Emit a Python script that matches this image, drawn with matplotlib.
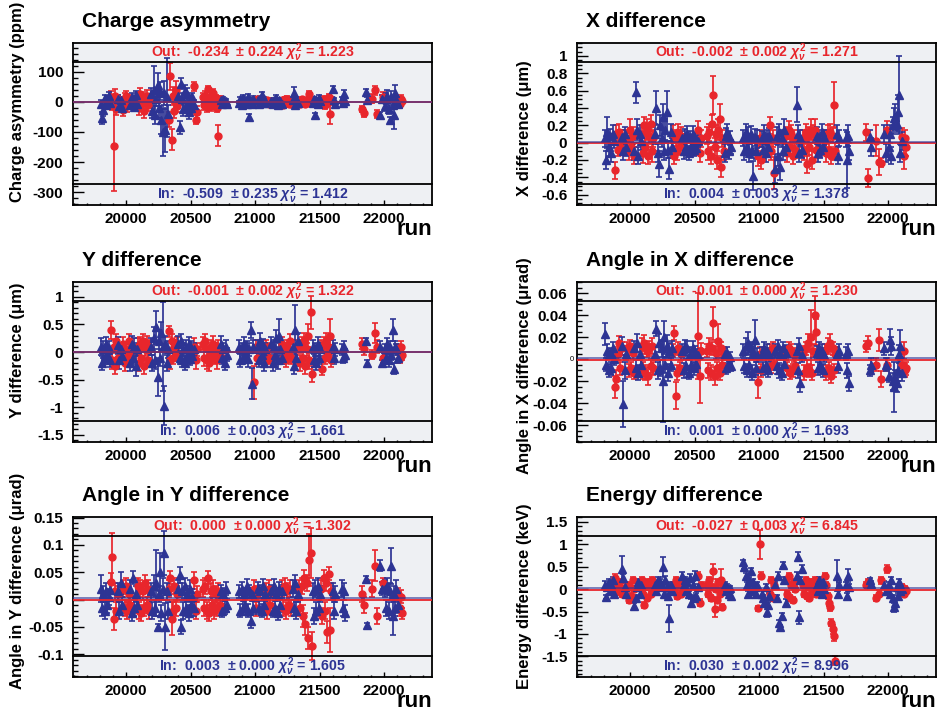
import matplotlib
matplotlib.use("Agg")
import matplotlib.pyplot as plt
import matplotlib.transforms as mtransforms
from matplotlib.ticker import MultipleLocator, FuncFormatter

plt.rcParams["font.family"] = ["Liberation Sans", "DejaVu Sans"]
plt.rcParams["font.weight"] = "bold"
plt.rcParams["mathtext.fontset"] = "custom"
plt.rcParams["mathtext.rm"] = "Liberation Sans:bold"
plt.rcParams["mathtext.it"] = "Liberation Sans:italic:bold"
plt.rcParams["mathtext.bf"] = "Liberation Sans:bold"

RED = "#e8262c"
BLUE = "#2d3494"
BG = "#eef0f3"

# run numbers, shared by all panels
runs_in = [19805, 19815, 19825, 19835, 19845, 19855, 19865, 19875,
           19940, 19950, 19960, 19970,
           20035, 20045, 20055, 20065, 20075, 20085,
           20195, 20205, 20215, 20225, 20235, 20245, 20255, 20265, 20275, 20285, 20295, 20305, 20315, 20325,
           20405, 20415, 20425, 20435, 20445, 20455, 20465, 20475, 20485, 20495, 20505, 20515, 20525,
           20735, 20745, 20755, 20765, 20775, 20785,
           20875, 20885, 20895, 20905, 20915, 20925, 20935, 20945, 20955, 20965, 20975, 20985,
           21020, 21030, 21040, 21050, 21060, 21070, 21080,
           21125, 21135, 21145, 21155, 21165, 21175, 21185, 21195, 21205,
           21290, 21300, 21310, 21320, 21330,
           21445, 21455, 21465, 21475, 21485, 21495, 21505,
           21600, 21610, 21620,
           21670, 21680, 21690, 21700,
           21860, 21865, 21965, 21980,
           22005, 22015, 22025, 22035, 22045, 22055, 22065, 22075, 22085, 22095, 22105]
runs_out = [19885, 19895, 19905, 19915, 19925, 19935,
            19980, 19990, 20000, 20010, 20020, 20030,
            20090, 20100, 20110, 20120, 20130, 20140, 20150, 20160, 20170, 20180,
            20335, 20345, 20355, 20365, 20375, 20385, 20395,
            20530, 20540, 20550,
            20595, 20605, 20615, 20625, 20635, 20645, 20655, 20665, 20675, 20685, 20695, 20705, 20715, 20725,
            20995, 21005, 21015,
            21085, 21095, 21105, 21115,
            21210, 21220, 21230, 21240, 21250, 21260, 21270, 21280,
            21340, 21350, 21360, 21370, 21380, 21390, 21400, 21410, 21420, 21430, 21440,
            21510, 21520, 21530, 21540, 21550, 21560, 21570, 21580, 21590,
            21825, 21845, 21905, 21925, 21945, 21990,
            22110, 22120, 22130, 22140]

# charge asymmetry (ppm)
charge_in = [-8, -55, -28, 12, -10, 6, 20, -5,
             10, -15, 5, -20,
             -12, 15, 5, -18, 22, -6,
             25, -30, 40, -45, 10, 55, -20, 35, -60, -100, 30, -95, 15, -40,
             20, -85, 60, 10, -25, 35, -15, 25, -35, 5, -20, 15, -10,
             5, -8, 10, -5, 3, -6,
             -5, 8, -10, 12, -4, 6, -8, 15, -50, 4, -6, 10,
             5, -8, 10, 22, -5, 8, -3,
             4, -8, 6, -5, 12, -10, 5, 2, -6,
             6, 30, -12, 8, -4,
             -5, 8, -45, 6, -8, 12, 4,
             42, 5, -6,
             8, -5, 25, 4,
             32, 5, -45, 10,
             -15, 10, 20, -25, -60, 15, -10, -45, 30, 5, -8]
charge_in_err = [14, 20, 18, 12, 10, 12, 14, 10,
                 12, 14, 10, 12,
                 12, 14, 10, 12, 14, 10,
                 20, 25, 80, 30, 25, 40, 35, 30, 45, 80, 40, 70, 130, 30,
                 25, 20, 18, 20, 22, 20, 18, 20, 22, 18, 16, 15, 15,
                 6, 8, 6, 7, 6, 5,
                 8, 8, 10, 9, 8, 7, 8, 10, 10, 8, 7, 8,
                 7, 8, 8, 12, 7, 8, 6,
                 8, 9, 8, 7, 9, 8, 7, 8, 7,
                 9, 20, 10, 8, 7,
                 8, 9, 8, 8, 9, 10, 8,
                 12, 8, 7,
                 8, 7, 15, 8,
                 12, 10, 10, 12,
                 15, 18, 20, 15, 10, 20, 15, 45, 25, 15, 12]
charge_out = [15, -10, -145, 20, -25, 8,
              -28, 10, 20, -15, 8, -10,
              12, -20, 25, -8, 15, -30, 5, 20, -12, 10,
              -60, 85, -125, 20, -30, 40, -15,
              52, -60, -35,
              15, -10, 20, -18, 42, 5, -15, 25, 30, -8, 12, -20, -112, 8,
              5, -3, 8,
              -4, 6, -8, 3,
              5, -10, 8, -4, 10, -6, 3, -8,
              4, -6, 8, -3, 5, -8, 6, -4, 25, 3, -5,
              5, -8, 10, -12, 6, -5, 15, -42, 8,
              -25, -38, 10, 38, -40, 15,
              5, -8, 10, 2]
charge_out_err = [20, 18, 150, 22, 20, 15,
                  18, 20, 15, 18, 14, 15,
                  20, 25, 22, 20, 18, 25, 20, 18, 20, 15,
                  25, 45, 35, 30, 25, 30, 20,
                  15, 15, 20,
                  15, 18, 15, 16, 10, 15, 14, 15, 12, 16, 12, 15, 35, 12,
                  8, 7, 8,
                  8, 7, 8, 7,
                  8, 9, 8, 7, 9, 8, 7, 8,
                  7, 8, 7, 6, 7, 8, 6, 7, 10, 7, 6,
                  8, 9, 10, 12, 8, 7, 10, 30, 8,
                  10, 12, 15, 14, 12, 18,
                  10, 12, 12, 10]

# X difference (um)
xdiff_in = [0.05, -0.2, 0.12, -0.05, 0.08, -0.12, 0.1, 0.02,
            0.06, -0.1, 0.1, -0.05,
            -0.1, 0.58, 0.15, -0.15, 0.1, 0.02,
            0.1, 0.4, -0.12, -0.25, 0.2, 0.05, 0.3, -0.1, 0.15, 0.35, -0.08, -0.3, 0.12, -0.05,
            0.05, -0.1, 0.08, -0.05, 0.1, -0.12, 0.06, -0.04, 0.1, -0.08, 0.04, -0.06, 0.02,
            -0.12, 0.08, 0.12, -0.1, 0.05, -0.05,
            0.05, -0.1, 0.12, -0.05, 0.08, -0.12, 0.1, -0.08, -0.38, 0.06, -0.1, 0.04,
            0.04, -0.08, 0.1, -0.12, 0.06, -0.05, 0.08,
            -0.3, 0.08, -0.15, 0.12, -0.28, 0.05, -0.1, 0.15, -0.05,
            0.44, 0.1, -0.12, 0.05, -0.08,
            0.08, -0.12, 0.05, -0.08, 0.12, -0.05, 0.06,
            0.1, -0.15, 0.05,
            0.05, -0.2, 0.08, -0.1,
            0.07, -0.05, 0.1, -0.12,
            -0.05, 0.1, -0.15, 0.2, 0.28, 0.3, 0.22, 0.35, 0.55, -0.12, 0.02]
xdiff_in_err = [0.1, 0.1, 0.18, 0.1, 0.08, 0.1, 0.1, 0.08,
                0.09, 0.1, 0.08, 0.1,
                0.1, 0.12, 0.12, 0.1, 0.1, 0.1,
                0.12, 0.2, 0.1, 0.15, 0.12, 0.1, 0.15, 0.1, 0.12, 0.25, 0.1, 0.12, 0.1, 0.1,
                0.08, 0.09, 0.08, 0.07, 0.09, 0.08, 0.07, 0.08, 0.09, 0.08, 0.07, 0.08, 0.07,
                0.1, 0.09, 0.1, 0.09, 0.08, 0.08,
                0.09, 0.1, 0.1, 0.09, 0.1, 0.1, 0.09, 0.1, 0.17, 0.1, 0.09, 0.1,
                0.09, 0.1, 0.1, 0.1, 0.09, 0.08, 0.09,
                0.17, 0.1, 0.12, 0.1, 0.15, 0.1, 0.1, 0.12, 0.1,
                0.2, 0.1, 0.1, 0.09, 0.1,
                0.1, 0.1, 0.09, 0.1, 0.1, 0.09, 0.09,
                0.1, 0.1, 0.09,
                0.1, 0.32, 0.12, 0.1,
                0.08, 0.1, 0.1, 0.1,
                0.12, 0.1, 0.1, 0.1, 0.12, 0.15, 0.1, 0.2, 0.45, 0.1, 0.1]
xdiff_out = [-0.32, 0.1, -0.08, 0.12, -0.05, 0.06,
             0.05, -0.1, 0.15, -0.05, 0.08, -0.15,
             0.1, -0.12, 0.2, -0.05, 0.15, -0.15, 0.08, 0.22, -0.1, 0.05,
             0.1, -0.15, 0.05, -0.1, 0.12, -0.05, 0.08,
             0.15, -0.12, 0.05,
             0.08, -0.1, 0.12, -0.15, 0.22, 0.55, -0.05, 0.1, -0.2, 0.15, 0.27, -0.28, 0.05, -0.1,
             -0.15, 0.05, -0.2,
             0.2, -0.1, 0.05, -0.35,
             0.08, -0.12, 0.15, -0.05, 0.1, -0.15, 0.05, -0.08,
             0.05, -0.1, 0.12, -0.25, 0.08, -0.05, 0.15, -0.2, 0.1, 0.15, -0.08,
             0.05, -0.12, 0.1, -0.08, 0.12, -0.15, 0.08, 0.44, -0.1,
             0.12, -0.41, 0.02, -0.22, -0.23, 0.15,
             0.07, -0.15, 0.05, -0.05]
xdiff_out_err = [0.1, 0.1, 0.08, 0.1, 0.08, 0.08,
                 0.1, 0.1, 0.12, 0.09, 0.1, 0.1,
                 0.1, 0.12, 0.1, 0.1, 0.12, 0.1, 0.1, 0.1, 0.12, 0.1,
                 0.1, 0.1, 0.09, 0.1, 0.1, 0.09, 0.1,
                 0.1, 0.1, 0.1,
                 0.1, 0.1, 0.1, 0.1, 0.1, 0.22, 0.1, 0.1, 0.1, 0.12, 0.18, 0.12, 0.1, 0.1,
                 0.12, 0.1, 0.1,
                 0.1, 0.1, 0.1, 0.18,
                 0.1, 0.1, 0.1, 0.09, 0.1, 0.1, 0.09, 0.1,
                 0.1, 0.1, 0.1, 0.1, 0.1, 0.09, 0.12, 0.1, 0.1, 0.12, 0.1,
                 0.1, 0.1, 0.1, 0.09, 0.1, 0.1, 0.09, 0.26, 0.1,
                 0.1, 0.1, 0.18, 0.15, 0.05, 0.1,
                 0.1, 0.15, 0.1, 0.1]

# Y difference (um)
ydiff_in = [0.1, -0.2, 0.05, -0.1, 0.15, -0.05, 0.08, -0.15,
            0.12, -0.15, 0.05, -0.08,
            -0.2, 0.15, -0.1, 0.1, -0.25, 0.05,
            0.1, -0.2, 0.25, -0.15, 0.45, -0.45, 0.2, -0.1, 0.35, 0.1, -0.97, 0.15, -0.2, 0.05,
            0.15, -0.1, 0.2, -0.15, 0.05, -0.2, 0.1, -0.05, 0.15, -0.12, 0.08, -0.08, 0.05,
            0.15, -0.1, 0.05, -0.2, 0.1, -0.05,
            0.1, -0.15, 0.05, -0.1, 0.15, -0.05, 0.08, -0.12, 0.05, 0.4, -0.57, 0.1,
            0.1, -0.15, 0.2, -0.05, 0.12, -0.2, 0.05,
            0.15, -0.2, 0.1, -0.05, 0.25, -0.15, 0.3, 0.05, -0.1,
            0.1, -0.25, 0.4, -0.1, 0.2,
            0.1, -0.15, 0.05, -0.2, 0.15, -0.1, 0.05,
            0.1, -0.1, 0.05,
            0.05, -0.1, 0.1, -0.05,
            0.2, -0.2, 0.1, -0.2,
            0.05, -0.1, 0.15, -0.15, 0.1, -0.05, 0.4, -0.3, 0.1, 0.05, -0.1]
ydiff_in_err = [0.15, 0.12, 0.15, 0.12, 0.12, 0.12, 0.12, 0.12,
                0.15, 0.15, 0.12, 0.12,
                0.15, 0.15, 0.12, 0.15, 0.18, 0.12,
                0.15, 0.15, 0.2, 0.15, 0.3, 0.35, 0.2, 0.15, 0.2, 0.8, 0.35, 0.15, 0.15, 0.15,
                0.15, 0.12, 0.12, 0.12, 0.12, 0.12, 0.12, 0.12, 0.12, 0.12, 0.12, 0.12, 0.12,
                0.15, 0.12, 0.12, 0.12, 0.12, 0.12,
                0.12, 0.12, 0.12, 0.12, 0.12, 0.12, 0.12, 0.15, 0.12, 0.15, 0.28, 0.12,
                0.12, 0.12, 0.15, 0.12, 0.12, 0.15, 0.12,
                0.12, 0.15, 0.12, 0.12, 0.15, 0.15, 0.3, 0.12, 0.12,
                0.12, 0.15, 0.45, 0.15, 0.15,
                0.12, 0.12, 0.12, 0.12, 0.12, 0.12, 0.12,
                0.12, 0.12, 0.12,
                0.1, 0.1, 0.1, 0.1,
                0.05, 0.05, 0.1, 0.05,
                0.1, 0.12, 0.1, 0.12, 0.1, 0.1, 0.2, 0.1, 0.1, 0.1, 0.1]
ydiff_out = [0.4, -0.15, 0.1, -0.25, 0.2, -0.1,
             0.15, -0.2, 0.05, -0.1, 0.2, -0.05,
             0.1, -0.2, 0.15, -0.1, 0.2, -0.25, 0.05, 0.15, -0.15, 0.1,
             0.38, -0.15, 0.2, -0.1, 0.1, -0.05, 0.15,
             0.1, -0.15, 0.05,
             0.15, -0.1, 0.2, -0.15, 0.05, -0.2, 0.1, -0.05, 0.15, -0.1, 0.05, -0.15, 0.1, -0.05,
             -0.55, 0.1, -0.1,
             0.1, -0.15, 0.05, -0.1,
             0.15, -0.1, 0.05, -0.15, 0.1, -0.05, 0.2, -0.1,
             0.1, -0.2, 0.15, -0.1, 0.2, -0.25, 0.05, 0.3, -0.15, 0.72, -0.4,
             0.1, -0.3, 0.15, -0.1, 0.2, -0.05, 0.1, 0.3, -0.15,
             0.15, 0.05, -0.05, 0.35, 0.1, -0.1,
             0.05, -0.1, 0.1, -0.05]
ydiff_out_err = [0.17, 0.15, 0.12, 0.15, 0.12, 0.12,
                 0.12, 0.15, 0.12, 0.12, 0.12, 0.12,
                 0.15, 0.15, 0.12, 0.15, 0.12, 0.15, 0.12, 0.15, 0.12, 0.12,
                 0.1, 0.15, 0.12, 0.12, 0.12, 0.12, 0.12,
                 0.15, 0.15, 0.12,
                 0.12, 0.15, 0.12, 0.15, 0.12, 0.15, 0.12, 0.12, 0.15, 0.12, 0.12, 0.15, 0.12, 0.12,
                 0.3, 0.12, 0.12,
                 0.12, 0.12, 0.12, 0.12,
                 0.12, 0.12, 0.12, 0.12, 0.12, 0.12, 0.12, 0.12,
                 0.12, 0.15, 0.12, 0.12, 0.15, 0.15, 0.12, 0.2, 0.15, 0.3, 0.15,
                 0.12, 0.12, 0.12, 0.12, 0.15, 0.12, 0.12, 0.3, 0.12,
                 0.1, 0.1, 0.08, 0.18, 0.12, 0.1,
                 0.1, 0.1, 0.1, 0.1]

# angle in X difference (urad)
angx_in = [0.023, -0.005, 0.008, -0.01, 0.005, -0.008, 0.01, 0.0,
           0.012, -0.041, -0.01, 0.005,
           0.01, -0.008, 0.015, -0.012, 0.005, -0.005,
           0.005, 0.028, -0.01, 0.015, -0.008, 0.01, -0.02, 0.02, -0.005, 0.012, -0.012, 0.008, -0.005, 0.01,
           0.008, -0.01, 0.012, -0.006, 0.01, -0.012, 0.005, -0.005, 0.01, -0.008, 0.006, -0.004, 0.004,
           0.005, -0.008, 0.006, -0.004, 0.002, -0.006,
           0.008, -0.006, 0.012, -0.01, 0.015, -0.005, 0.01, -0.012, 0.006, 0.018, -0.008, 0.004,
           0.005, -0.008, 0.01, -0.005, 0.008, -0.01, 0.004,
           0.008, -0.006, 0.012, -0.01, 0.005, -0.012, 0.01, -0.004, 0.006,
           0.008, -0.01, 0.012, -0.022, 0.004,
           0.006, -0.008, 0.01, -0.005, 0.008, -0.01, 0.004,
           0.005, -0.006, 0.008,
           0.005, -0.01, 0.008, -0.022,
           -0.01, -0.005, 0.01, -0.005,
           -0.015, 0.018, 0.012, -0.02, -0.025, -0.018, -0.022, -0.01, 0.005, 0.012, -0.012]
angx_in_err = [0.01, 0.006, 0.006, 0.006, 0.005, 0.006, 0.006, 0.005,
               0.008, 0.021, 0.008, 0.006,
               0.007, 0.007, 0.008, 0.007, 0.006, 0.006,
               0.006, 0.007, 0.008, 0.008, 0.007, 0.008, 0.037, 0.015, 0.007, 0.01, 0.008, 0.007, 0.006, 0.007,
               0.006, 0.007, 0.006, 0.006, 0.007, 0.006, 0.006, 0.006, 0.007, 0.006, 0.006, 0.006, 0.005,
               0.005, 0.005, 0.005, 0.005, 0.005, 0.005,
               0.006, 0.006, 0.007, 0.006, 0.01, 0.006, 0.006, 0.007, 0.006, 0.018, 0.006, 0.006,
               0.006, 0.006, 0.006, 0.006, 0.006, 0.006, 0.006,
               0.006, 0.007, 0.006, 0.007, 0.006, 0.007, 0.006, 0.006, 0.007,
               0.006, 0.007, 0.007, 0.008, 0.006,
               0.006, 0.006, 0.006, 0.006, 0.006, 0.006, 0.006,
               0.006, 0.006, 0.006,
               0.006, 0.007, 0.006, 0.007,
               0.005, 0.006, 0.006, 0.006,
               0.006, 0.01, 0.008, 0.008, 0.023, 0.008, 0.008, 0.01, 0.008, 0.015, 0.008]
angx_out = [-0.025, -0.018, 0.005, 0.015, -0.008, 0.01,
            0.01, -0.01, 0.012, -0.008, 0.006, -0.012,
            0.012, -0.01, 0.015, -0.012, 0.008, -0.015, 0.01, -0.006, 0.012, -0.008,
            0.008, 0.024, -0.033, -0.012, 0.01, -0.008, 0.005,
            0.021, -0.015, 0.008,
            0.008, -0.01, 0.012, -0.012, 0.01, 0.033, -0.015, 0.006, -0.008, 0.017, -0.012, 0.01, -0.005, 0.005,
            -0.021, 0.005, -0.01,
            0.008, -0.006, 0.01, -0.004,
            0.006, -0.008, 0.01, -0.012, 0.008, -0.01, 0.004, -0.006,
            0.006, -0.012, 0.01, -0.008, 0.015, -0.01, 0.02, -0.012, 0.008, 0.04, 0.025,
            0.008, -0.012, 0.012, -0.008, 0.015, -0.015, 0.01, -0.01, 0.005,
            0.012, 0.015, -0.005, 0.018, -0.018, -0.005,
            -0.005, 0.008, -0.01, -0.008]
angx_out_err = [0.01, 0.008, 0.006, 0.006, 0.006, 0.006,
                0.006, 0.006, 0.006, 0.006, 0.006, 0.006,
                0.007, 0.008, 0.007, 0.007, 0.006, 0.008, 0.007, 0.006, 0.007, 0.006,
                0.006, 0.006, 0.012, 0.007, 0.006, 0.006, 0.006,
                0.039, 0.025, 0.007,
                0.006, 0.007, 0.007, 0.007, 0.006, 0.015, 0.008, 0.006, 0.006, 0.015, 0.007, 0.006, 0.006, 0.006,
                0.014, 0.006, 0.006,
                0.006, 0.006, 0.006, 0.006,
                0.006, 0.006, 0.006, 0.006, 0.006, 0.006, 0.006, 0.006,
                0.006, 0.007, 0.006, 0.007, 0.008, 0.006, 0.025, 0.007, 0.006, 0.018, 0.012,
                0.006, 0.007, 0.007, 0.006, 0.008, 0.007, 0.006, 0.006, 0.006,
                0.005, 0.006, 0.006, 0.01, 0.007, 0.006,
                0.006, 0.008, 0.006, 0.006]

# angle in Y difference (urad)
angy_in = [0.02, -0.015, 0.01, -0.02, 0.015, -0.01, 0.005, 0.018,
           0.015, -0.02, 0.03, -0.01,
           0.02, -0.025, 0.04, -0.015, 0.01, -0.01,
           0.015, -0.02, 0.025, -0.015, 0.03, -0.05, 0.01, 0.05, -0.025, 0.02, 0.085, -0.05, 0.015, -0.02,
           0.02, 0.045, -0.05, 0.015, -0.02, 0.025, -0.015, 0.01, -0.025, 0.02, -0.01, 0.005, -0.015,
           0.015, -0.02, 0.01, -0.015, 0.02, -0.01,
           0.015, -0.02, 0.02, -0.015, 0.01, -0.01, 0.025, -0.02, 0.015, -0.04, 0.01, -0.015,
           0.02, -0.015, 0.015, -0.02, 0.025, -0.01, 0.01,
           0.015, -0.02, 0.025, -0.015, 0.01, -0.025, 0.02, -0.01, 0.015,
           0.02, -0.015, 0.03, -0.02, 0.01,
           0.015, -0.03, 0.02, -0.02, 0.025, -0.015, 0.01,
           0.015, -0.02, 0.01,
           0.02, -0.015, 0.015, -0.025,
           0.038, -0.047, 0.062, 0.02,
           0.02, -0.015, 0.025, -0.02, 0.015, 0.062, -0.03, 0.01, -0.015, 0.02, -0.01]
angy_in_err = [0.025, 0.015, 0.015, 0.015, 0.015, 0.015, 0.015, 0.015,
               0.015, 0.015, 0.02, 0.015,
               0.015, 0.015, 0.012, 0.015, 0.015, 0.015,
               0.015, 0.015, 0.02, 0.015, 0.06, 0.005, 0.015, 0.035, 0.015, 0.02, 0.04, 0.043, 0.015, 0.015,
               0.015, 0.015, 0.012, 0.015, 0.015, 0.015, 0.015, 0.015, 0.015, 0.015, 0.015, 0.015, 0.015,
               0.012, 0.012, 0.012, 0.012, 0.012, 0.012,
               0.012, 0.012, 0.012, 0.012, 0.012, 0.012, 0.012, 0.012, 0.012, 0.012, 0.012, 0.012,
               0.012, 0.012, 0.012, 0.012, 0.012, 0.012, 0.012,
               0.012, 0.012, 0.012, 0.012, 0.012, 0.012, 0.012, 0.012, 0.012,
               0.015, 0.015, 0.015, 0.015, 0.015,
               0.015, 0.015, 0.015, 0.015, 0.015, 0.015, 0.015,
               0.015, 0.015, 0.015,
               0.015, 0.015, 0.015, 0.015,
               0.005, 0.005, 0.01, 0.012,
               0.015, 0.015, 0.015, 0.015, 0.015, 0.033, 0.035, 0.015, 0.015, 0.015, 0.015]
angy_out = [0.033, 0.077, -0.035, 0.015, -0.02, 0.01,
            0.02, -0.015, 0.025, -0.02, 0.01, -0.01,
            0.025, -0.02, 0.02, -0.025, 0.015, -0.015, 0.03, -0.01, 0.02, -0.02,
            0.02, 0.04, -0.035, -0.02, 0.025, -0.015, 0.01,
            0.035, -0.02, 0.01,
            0.02, -0.015, 0.025, -0.02, 0.04, -0.025, 0.015, -0.01, 0.02, -0.02, 0.01, -0.015, 0.015, -0.01,
            0.02, -0.015, 0.01,
            0.015, -0.02, 0.02, -0.01,
            0.02, -0.015, 0.025, -0.02, 0.015, -0.01, 0.02, -0.015,
            0.02, -0.015, 0.025, -0.03, 0.04, -0.045, 0.03, -0.07, 0.072, 0.085, -0.085,
            0.02, -0.03, 0.04, -0.02, 0.03, -0.06, 0.047, -0.055, 0.015,
            0.01, -0.01, 0.02, 0.062, -0.03, 0.03,
            0.01, -0.015, 0.005, -0.025]
angy_out_err = [0.015, 0.045, 0.02, 0.015, 0.015, 0.015,
                0.015, 0.015, 0.015, 0.015, 0.015, 0.015,
                0.015, 0.015, 0.015, 0.015, 0.015, 0.015, 0.015, 0.015, 0.015, 0.015,
                0.015, 0.012, 0.03, 0.015, 0.015, 0.015, 0.015,
                0.015, 0.015, 0.015,
                0.015, 0.015, 0.015, 0.015, 0.012, 0.015, 0.015, 0.015, 0.015, 0.015, 0.015, 0.015, 0.015, 0.015,
                0.015, 0.015, 0.015,
                0.015, 0.015, 0.015, 0.015,
                0.015, 0.015, 0.015, 0.015, 0.015, 0.015, 0.015, 0.015,
                0.015, 0.015, 0.015, 0.02, 0.015, 0.02, 0.015, 0.02, 0.048, 0.045, 0.025,
                0.015, 0.015, 0.015, 0.015, 0.015, 0.02, 0.012, 0.04, 0.015,
                0.015, 0.015, 0.015, 0.028, 0.015, 0.01,
                0.012, 0.015, 0.012, 0.01]

# energy difference (keV)
energy_in = [0.1, -0.18, 0.05, 0.15, -0.05, 0.1, 0.2, -0.1,
             0.45, 0.25, 0.05, -0.1,
             -0.38, -0.2, 0.05, 0.15, -0.1, 0.1,
             0.1, -0.05, 0.2, 0.05, 0.15, 0.1, 0.5, -0.1, 0.2, 0.05, -0.15, -0.65, 0.1, -0.05,
             0.3, 0.1, 0.2, -0.05, 0.15, -0.1, 0.25, -0.3, 0.1, -0.2, 0.3, -0.15, 0.05,
             0.1, -0.05, 0.05, -0.1, 0.02, -0.15,
             0.6, 0.5, 0.3, 0.1, -0.1, 0.2, 0.4, -0.05, 0.15, 0.05, -0.1, 0.1,
             -0.1, -0.2, -0.3, 0.05, -0.5, -0.35, -0.15,
             0.1, -0.2, 0.3, -0.75, -0.85, -0.6, 0.55, 0.2, -0.3,
             0.3, 0.72, -0.63, 0.2, 0.45,
             0.1, -0.05, 0.2, 0.05, -0.1, 0.15, 0.0,
             0.3, -0.1, 0.1,
             0.1, -0.15, 0.3, 0.05,
             0.2, 0.12, 0.1, -0.05,
             0.1, -0.1, 0.2, -0.2, -0.4, -0.3, 0.05, -0.15, 0.15, -0.05, 0.0]
energy_in_err = [0.08, 0.05, 0.07, 0.07, 0.06, 0.07, 0.07, 0.06,
                 0.3, 0.08, 0.08, 0.07,
                 0.06, 0.07, 0.08, 0.08, 0.07, 0.07,
                 0.07, 0.07, 0.08, 0.07, 0.08, 0.07, 0.22, 0.07, 0.1, 0.08, 0.07, 0.3, 0.07, 0.07,
                 0.08, 0.07, 0.08, 0.07, 0.08, 0.07, 0.08, 0.07, 0.08, 0.07, 0.1, 0.07, 0.07,
                 0.06, 0.06, 0.06, 0.06, 0.06, 0.06,
                 0.05, 0.05, 0.07, 0.07, 0.07, 0.07, 0.08, 0.07, 0.07, 0.07, 0.07, 0.07,
                 0.07, 0.07, 0.07, 0.07, 0.13, 0.07, 0.07,
                 0.07, 0.07, 0.08, 0.07, 0.06, 0.07, 0.06, 0.08, 0.07,
                 0.08, 0.1, 0.15, 0.08, 0.1,
                 0.07, 0.07, 0.07, 0.07, 0.07, 0.07, 0.07,
                 0.35, 0.07, 0.07,
                 0.07, 0.07, 0.15, 0.07,
                 0.06, 0.06, 0.08, 0.07,
                 0.07, 0.07, 0.08, 0.07, 0.1, 0.08, 0.07, 0.07, 0.08, 0.07, 0.07]
energy_out = [0.25, 0.1, -0.05, 0.15, 0.05, -0.1,
              0.1, -0.25, 0.05, -0.15, 0.2, 0.0,
              0.2, -0.1, -0.35, 0.1, -0.2, 0.15, 0.05, -0.1, 0.2, 0.0,
              0.1, -0.05, 0.2, -0.15, 0.1, 0.15, -0.1,
              0.3, -0.3, 0.1,
              0.1, -0.1, 0.2, -0.2, 0.05, 0.4, -0.45, 0.0, -0.25, 0.15, -0.1, 0.2, -0.4, 0.05,
              -0.43, 1.0, 0.3,
              -0.1, 0.2, -0.2, 0.1,
              0.2, -0.1, 0.3, -0.2, 0.1, -0.25, 0.15, 0.0,
              0.1, -0.1, 0.2, -0.15, 0.05, -0.2, 0.15, -0.05, 0.1, 0.2, -0.1,
              0.3, 0.1, -0.15, -0.3, -0.4, -0.75, -0.9, -1.05, -1.6,
              0.1, 0.15, -0.2, -0.1, 0.2, 0.45,
              0.05, -0.1, 0.0, -0.05]
energy_out_err = [0.08, 0.07, 0.07, 0.07, 0.07, 0.07,
                  0.07, 0.07, 0.07, 0.07, 0.07, 0.07,
                  0.08, 0.07, 0.07, 0.07, 0.07, 0.08, 0.07, 0.07, 0.08, 0.07,
                  0.07, 0.07, 0.07, 0.07, 0.07, 0.07, 0.07,
                  0.08, 0.07, 0.07,
                  0.07, 0.07, 0.08, 0.07, 0.07, 0.17, 0.18, 0.07, 0.07, 0.08, 0.07, 0.25, 0.07, 0.07,
                  0.05, 0.32, 0.08,
                  0.07, 0.07, 0.07, 0.07,
                  0.07, 0.07, 0.07, 0.07, 0.07, 0.07, 0.07, 0.07,
                  0.07, 0.07, 0.07, 0.07, 0.07, 0.07, 0.07, 0.07, 0.07, 0.07, 0.07,
                  0.07, 0.07, 0.07, 0.08, 0.08, 0.08, 0.1, 0.1, 0.1,
                  0.06, 0.07, 0.07, 0.08, 0.08, 0.08,
                  0.06, 0.06, 0.06, 0.06]

# fit results printed on each panel
out_mean = [-0.234, -0.002, -0.001, -0.001, 0.000, -0.027]
out_sig = [0.224, 0.002, 0.002, 0.000, 0.000, 0.003]
out_chi2 = [1.223, 1.271, 1.322, 1.230, 1.302, 6.845]
in_mean = [-0.509, 0.004, 0.006, 0.001, 0.003, 0.030]
in_sig = [0.235, 0.003, 0.003, 0.000, 0.000, 0.002]
in_chi2 = [1.412, 1.378, 1.661, 1.693, 1.605, 8.996]

titles = ["Charge asymmetry", "X difference", "Y difference",
          "Angle in X difference", "Angle in Y difference", "Energy difference"]
ylabels = ["Charge asymmetry (ppm)", "X difference (μm)", "Y difference (μm)",
           "Angle in X difference (μrad)", "Angle in Y difference (μrad)",
           "Energy difference (keV)"]
in_vals = [charge_in, xdiff_in, ydiff_in, angx_in, angy_in, energy_in]
in_errs = [charge_in_err, xdiff_in_err, ydiff_in_err, angx_in_err, angy_in_err, energy_in_err]
out_vals = [charge_out, xdiff_out, ydiff_out, angx_out, angy_out, energy_out]
out_errs = [charge_out_err, xdiff_out_err, ydiff_out_err, angx_out_err, angy_out_err, energy_out_err]

ylims = [(-342, 195), (-0.72, 1.15), (-1.63, 1.27), (-0.0752, 0.0703), (-0.1415, 0.151), (-1.96, 1.61)]
ymajor = [100, 0.2, 0.5, 0.02, 0.05, 0.5]
yminor = [20, 0.05, 0.1, 0.005, 0.01, 0.1]

# layout in pixels
W, H = 940, 715
col_x = [73, 577]
row_top = [43, 282, 517]
row_h = [162, 160, 160]
ax_w = 359
ylab_x = [18, 525]
ylab_y = [102, 128, 350, 366, 581, 596]

fig = plt.figure(figsize=(W / 100, H / 100), dpi=100)


def fmt_tick(v, pos):
    v = round(v, 6) + 0.0
    return "%g" % v


def fmt_tick_nozero(v, pos):
    v = round(v, 6) + 0.0
    return "" if v == 0 else "%g" % v


for i in range(6):
    r, c = divmod(i, 2)
    left, top, h = col_x[c], row_top[r], row_h[r]
    ax = fig.add_axes([left / W, 1 - (top + h) / H, ax_w / W, h / H])
    ax.set_facecolor(BG)

    ax.errorbar(runs_out, out_vals[i], yerr=out_errs[i], fmt="o", color=RED, ms=5,
                elinewidth=1.25, capsize=2, capthick=1.2, zorder=3)
    ax.errorbar(runs_in, in_vals[i], yerr=in_errs[i], fmt="^", color=BLUE, ms=5.5,
                elinewidth=1.25, capsize=2, capthick=1.2, zorder=3)
    ax.axhline(out_mean[i], color=RED, lw=1.3, zorder=4)
    ax.axhline(in_mean[i], color=BLUE, lw=1.3, alpha=0.65, zorder=4)

    # stat boxes
    for yy in (0.88, 0.13):
        ax.plot([0, 1], [yy, yy], transform=ax.transAxes, color="black", lw=1.3, zorder=5,
                clip_on=False)
    ax.text(0.5, 0.94, "Out:  %.3f  ± %.3f $\\chi^{2}_{\\nu}$ = %.3f" % (out_mean[i], out_sig[i], out_chi2[i]),
            transform=ax.transAxes, ha="center", va="center", color=RED, fontsize=10.2,
            fontweight="bold", zorder=6)
    ax.text(0.5, 0.062, "In:  %.3f  ± %.3f $\\chi^{2}_{\\nu}$ = %.3f" % (in_mean[i], in_sig[i], in_chi2[i]),
            transform=ax.transAxes, ha="center", va="center", color=BLUE, fontsize=10.2,
            fontweight="bold", zorder=6)

    ax.set_xlim(19590, 22370)
    ax.set_ylim(*ylims[i])
    ax.xaxis.set_major_locator(MultipleLocator(500))
    ax.xaxis.set_minor_locator(MultipleLocator(100))
    ax.yaxis.set_major_locator(MultipleLocator(ymajor[i]))
    ax.yaxis.set_minor_locator(MultipleLocator(yminor[i]))
    ax.xaxis.set_major_formatter(FuncFormatter(fmt_tick))
    if i == 3:
        ax.yaxis.set_major_formatter(FuncFormatter(fmt_tick_nozero))
        trans = mtransforms.blended_transform_factory(ax.transAxes, ax.transData)
        ax.text(-0.01, 0.0, "0", transform=trans, ha="right", va="center", fontsize=5.5,
                fontweight="normal")
    else:
        ax.yaxis.set_major_formatter(FuncFormatter(fmt_tick))

    ax.tick_params(axis="both", which="both", direction="in", top=False, right=False,
                   width=1.0, labelsize=11)
    ax.tick_params(axis="y", which="major", length=7.8, pad=7)
    ax.tick_params(axis="y", which="minor", length=3.9)
    ax.tick_params(axis="x", which="major", length=3.6, pad=5)
    ax.tick_params(axis="x", which="minor", length=1.8)
    for s in ax.spines.values():
        s.set_linewidth(1.3)

    fig.text((left + 9) / W, 1 - (top - 21.5) / H, titles[i], ha="left", va="center",
             fontsize=15, fontweight="bold")
    fig.text(ylab_x[c] / W, 1 - ylab_y[i] / H, ylabels[i], rotation=90, ha="center",
             va="center", fontsize=12, fontweight="bold")
    fig.text((left + ax_w) / W, 1 - (top + h + 30) / H, "run", ha="right", va="baseline",
             fontsize=16, fontweight="bold")

fig.savefig("out.png", dpi=100)
